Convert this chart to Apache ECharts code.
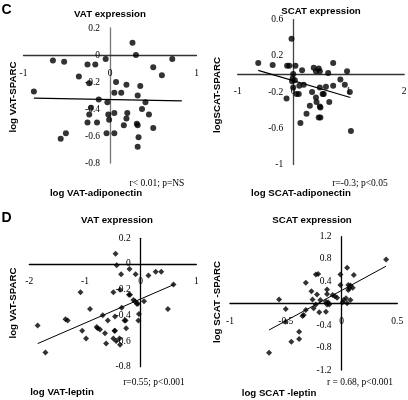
<!DOCTYPE html>
<html>
<head>
<meta charset="utf-8">
<script src="https://cdn.jsdelivr.net/npm/echarts@6/dist/echarts.min.js"></script>
<style>html,body{margin:0;padding:0;background:#fff}#c{width:408px;height:400px}</style>
</head>
<body>
<div id="c"></div>
<script>
// Panel C left: VAT-adiponectin vs VAT-SPARC
var vatAdipoX = [0.26,0.30,0.72,-0.66,-0.53,-0.05,-0.26,-0.17,0.50,-0.36,0.60,-0.24,0.07,0.19,0.35,-0.88,0.05,0.13,0.32,-0.13,0.41,-0.03,-0.22,0.37,-0.24,-0.02,0.05,0.20,0.45,0.19,-0.26,-0.15,-0.01,0.16,0.31,0.32,0.50,-0.51,-0.57,-0.04,0.05,0.33,0.32];
var vatAdipoY = [0.09,0.00,-0.03,-0.04,-0.05,-0.03,-0.07,-0.07,-0.09,-0.16,-0.15,-0.21,-0.20,-0.22,-0.23,-0.27,-0.28,-0.28,-0.30,-0.33,-0.35,-0.35,-0.39,-0.40,-0.44,-0.44,-0.43,-0.43,-0.44,-0.47,-0.50,-0.50,-0.48,-0.52,-0.51,-0.52,-0.54,-0.58,-0.62,-0.58,-0.58,-0.61,-0.68];
var vatAdipoFitX = [-0.88, 0.83];
var vatAdipoFitY = [-0.32, -0.34];

// Panel C right: SCAT-adiponectin vs SCAT-SPARC
var scatAdipoX = [-0.03,-0.63,-0.37,-0.11,-0.07,0.04,0.16,0.37,0.41,0.46,0.48,0.72,0.63,0.97,0.00,-0.01,-0.02,0.03,0.19,0.11,0.00,0.85,0.93,0.72,0.59,0.48,0.06,0.10,-0.12,0.34,0.41,0.53,0.55,1.02,0.65,0.42,0.30,0.48,0.49,0.24,0.46,0.49,0.13,1.04];
var scatAdipoY = [0.39,0.12,0.10,0.09,0.09,0.09,0.04,0.07,0.03,0.06,0.03,0.12,0.01,0.03,0.00,-0.05,-0.08,-0.07,-0.12,-0.13,-0.15,-0.06,-0.12,-0.13,-0.14,-0.15,-0.22,-0.22,-0.27,-0.20,-0.26,-0.22,-0.22,-0.20,-0.31,-0.31,-0.35,-0.36,-0.37,-0.44,-0.48,-0.48,-0.54,-0.63];
var scatAdipoFitX = [-0.63, 1.03];
var scatAdipoFitY = [0.04, -0.26];

// Panel D left: VAT-leptin vs VAT-SPARC
var vatLepX = [-0.45,-0.43,-0.20,-0.35,-0.09,0.14,0.27,0.37,0.59,-1.08,-0.49,-0.37,-0.21,-0.19,-0.13,-0.10,-0.07,0.06,-0.05,-0.91,-0.34,0.49,-0.03,-0.68,-0.46,-1.35,-1.31,-0.59,-0.29,-0.27,-0.04,-1.85,-0.79,-0.77,-0.73,-0.26,-1.05,-0.64,-0.46,-0.47,-0.98,-0.62,-0.49,-0.44,-0.38,-0.37,-1.71];
var vatLepY = [0.08,-0.01,-0.04,-0.08,-0.08,-0.09,-0.06,-0.06,-0.16,-0.22,-0.22,-0.20,-0.24,-0.24,-0.28,-0.29,-0.31,-0.29,-0.31,-0.35,-0.34,-0.35,-0.39,-0.40,-0.41,-0.43,-0.44,-0.44,-0.44,-0.44,-0.44,-0.48,-0.49,-0.50,-0.51,-0.50,-0.52,-0.54,-0.52,-0.52,-0.58,-0.62,-0.58,-0.60,-0.58,-0.63,-0.69];
var vatLepFitX = [-1.85, 0.60];
var vatLepFitY = [-0.62, -0.16];

// Panel D right: SCAT-leptin vs SCAT-SPARC
var scatLepX = [0.40,0.05,0.11,-0.01,-0.23,-0.21,-0.32,-0.01,0.06,0.08,0.10,0.07,0.06,-0.27,-0.13,-0.13,-0.22,-0.08,-0.06,-0.04,0.04,0.02,0.08,-0.56,-0.26,-0.19,-0.14,-0.12,-0.13,-0.11,0.01,0.05,-0.23,-0.50,-0.25,-0.32,-0.20,-0.14,-0.34,-0.35,-0.50,-0.38,-0.38,-0.45,-0.65];
var scatLepY = [0.79,0.64,0.51,0.52,0.52,0.53,0.37,0.33,0.33,0.32,0.28,0.27,0.24,0.22,0.25,0.17,0.16,0.15,0.13,0.10,0.09,0.06,0.06,0.07,0.07,0.06,0.03,0.02,-0.02,-0.02,0.02,0.00,-0.02,-0.10,-0.09,-0.12,-0.16,-0.15,-0.21,-0.23,-0.33,-0.51,-0.64,-0.69,-0.89];
var scatLepFitX = [-0.65, 0.40];
var scatLepFitY = [-0.48, 0.67];

// Axis ranges / tick steps
var xMin = [-1, -1, -2, -1], xMax = [1, 2, 1, 0.5], xStep = [1, 1, 1, 0.5];
var yMin = [-0.8, -1, -0.8, -1.2], yMax = [0.2, 0.6, 0.2, 1.2], yStep = [0.2, 0.4, 0.2, 0.4];

// Text
var panelLetters = ['C', 'D'];
var titles = ['VAT expression', 'SCAT expression', 'VAT expression', 'SCAT expression'];
var yNames = ['log VAT-SPARC', 'logSCAT-SPARC', 'log VAT-SPARC', 'log SCAT -SPARC'];
var xNames = ['log VAT-adiponectin', 'log SCAT-adiponectin', 'log VAT-leptin', 'log SCAT -leptin'];
var stats = ['r< 0.01; p=NS', 'r=-0.3; p<0.05', 'r=0.55; p<0.001', 'r = 0.68, p<0.001'];

function zip(a, b) { return a.map(function (v, i) { return [v, b[i]]; }); }

var grids = [
  {left: 23.5, top: 28, width: 173, height: 135},
  {left: 237.7, top: 19.6, width: 166.5, height: 145},
  {left: 29.3, top: 238.3, width: 167, height: 128.4},
  {left: 230, top: 236.7, width: 167.3, height: 133.3}
];
grids.forEach(function (g) { g.containLabel = false; g.outerBoundsMode = 'none'; });

var hColor = ['#333', '#333', '#000', '#000'];
var vColor = ['#777', '#444', '#000', '#000'];
var serif = '"Liberation Serif", "Times New Roman", serif';
var sans = '"Liberation Sans", Arial, sans-serif';

function fmt(i) {
  return function (v) {
    var r = Math.round(v * 100) / 100;
    if (i === 3 && Math.abs(r) < 1e-9) return '';
    return String(r);
  };
}
function fmtX(v) { return String(Math.round(v * 100) / 100); }

var xAxes = [], yAxes = [];
for (var i = 0; i < 4; i++) {
  var g = grids[i];
  // move the axes so they cross at zero (Excel style)
  var xOff = -(0 - yMin[i]) / (yMax[i] - yMin[i]) * g.height;
  var yOff = -(0 - xMin[i]) / (xMax[i] - xMin[i]) * g.width;
  xAxes.push({
    gridIndex: i, type: 'value', position: 'bottom', offset: xOff,
    min: xMin[i], max: xMax[i], interval: xStep[i],
    axisLine: {onZero: false, lineStyle: {color: hColor[i], width: 1.3}},
    axisTick: {show: false}, splitLine: {show: false},
    axisLabel: {margin: 13, fontFamily: serif, fontSize: 9.5, color: '#000', showMinLabel: true, showMaxLabel: true, formatter: fmtX, hideOverlap: false}
  });
  yAxes.push({
    gridIndex: i, type: 'value', position: 'left', offset: yOff,
    min: yMin[i], max: yMax[i], interval: yStep[i],
    axisLine: {onZero: false, lineStyle: {color: vColor[i], width: 1.3}},
    axisTick: {show: false}, splitLine: {show: false},
    axisLabel: {margin: 10, fontFamily: serif, fontSize: 9.5, color: '#000', showMinLabel: true, showMaxLabel: true, formatter: fmt(i), hideOverlap: false}
  });
}

var pts = [zip(vatAdipoX, vatAdipoY), zip(scatAdipoX, scatAdipoY), zip(vatLepX, vatLepY), zip(scatLepX, scatLepY)];
var fits = [zip(vatAdipoFitX, vatAdipoFitY), zip(scatAdipoFitX, scatAdipoFitY), zip(vatLepFitX, vatLepFitY), zip(scatLepFitX, scatLepFitY)];
var series = [];
for (var j = 0; j < 4; j++) {
  series.push({
    type: 'line', xAxisIndex: j, yAxisIndex: j, data: fits[j], symbol: 'none', silent: true,
    lineStyle: {color: '#000', width: j < 2 ? 1.2 : 1}, z: 3
  });
  series.push({
    type: 'scatter', xAxisIndex: j, yAxisIndex: j, data: pts[j],
    symbol: j < 2 ? 'circle' : 'diamond', symbolSize: 6,
    itemStyle: {color: '#000'}, z: 4
  });
}

function txt(t, x, y, font, rot) {
  return {
    type: 'text', x: x, y: y, rotation: rot || 0, silent: true,
    style: {text: t, font: font, fill: '#000', align: 'center', verticalAlign: 'middle'}
  };
}
var bold = function (s) { return 'bold ' + s + 'px ' + sans; };
var graphics = [
  txt(panelLetters[0], 6.5, 10, bold(14)),
  txt(panelLetters[1], 6.5, 218, bold(14)),
  txt(titles[0], 110, 14, bold(9.7)),
  txt(titles[1], 321, 11, bold(9.7)),
  txt(titles[2], 117, 220, bold(9.7)),
  txt(titles[3], 312, 220, bold(9.7)),
  txt(yNames[0], 13.3, 97, bold(9.7), Math.PI / 2),
  txt(yNames[1], 217.3, 95, bold(9.7), Math.PI / 2),
  txt(yNames[2], 13.3, 303, bold(9.7), Math.PI / 2),
  txt(yNames[3], 217.3, 302, bold(9.7), Math.PI / 2),
  txt(xNames[0], 96, 193, bold(9.7)),
  txt(xNames[1], 301, 193, bold(9.7)),
  txt(xNames[2], 62, 392.5, bold(9.7)),
  txt(xNames[3], 279, 393, bold(9.7)),
  txt(stats[0], 157, 183, '9.5px ' + serif),
  txt(stats[1], 360, 183, '9.5px ' + serif),
  txt(stats[2], 154, 382.5, '9.5px ' + serif),
  txt(stats[3], 360, 382.5, '9.5px ' + serif)
];

var chart = echarts.init(document.getElementById('c'), null, {renderer: 'canvas'});
chart.setOption({
  animation: false,
  backgroundColor: '#fff',
  grid: grids,
  xAxis: xAxes,
  yAxis: yAxes,
  series: series,
  graphic: graphics
});
</script>
</body>
</html>
